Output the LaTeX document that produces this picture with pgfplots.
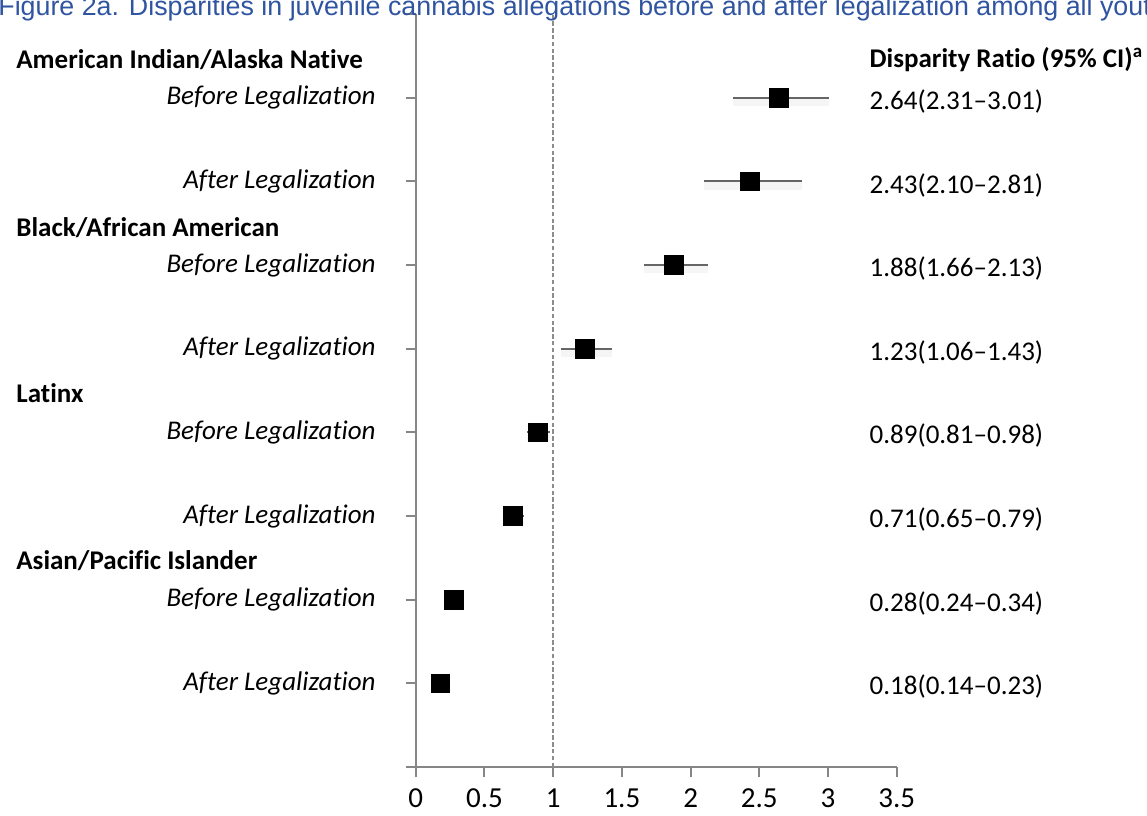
\documentclass[border=0pt]{standalone}
\usepackage{pgfplots}
\pgfplotsset{compat=1.18}
\usepackage{pgfplotstable}
\usepackage{fontspec}
\setmainfont{Carlito}[Ligatures=NoCommon]
\newfontfamily\arialfont{Liberation Sans}
\definecolor{titleblue}{RGB}{47,84,160}
\definecolor{axgray}{RGB}{134,134,134}
\pgfplotstableread{
est   y  ep    em
2.64  8  0.37  0.33
2.43  7  0.38  0.33
1.88  6  0.25  0.22
1.23  5  0.20  0.17
0.89  4  0.09  0.08
0.71  3  0.08  0.06
0.28  2  0.06  0.04
0.18  1  0.05  0.04
}\dr
\tikzset{grp/.style={anchor=west, inner sep=0pt, font=\bfseries\fontsize{13.5}{13.5}\selectfont},
         sub/.style={anchor=east, inner sep=0pt, font=\itshape\fontsize{13.5}{13.5}\selectfont},
         val/.style={anchor=west, inner sep=0pt, font=\fontsize{13.5}{13.5}\selectfont}}
\begin{document}
\begin{tikzpicture}[x=1pt,y=1pt]
\begin{axis}[
  at={(207.85pt,24pt)}, anchor=south west,
  scale only axis, width=240.55pt, height=376.5pt,
  xmin=0, xmax=3.5, ymin=0, ymax=9,
  axis x line*=bottom, axis y line*=left,
  axis line style={axgray, line width=1pt},
  xtick={0,0.5,1,1.5,2,2.5,3,3.5},
  ytick={0,1,2,3,4,5,6,7,8,9}, yticklabels={},
  tick style={axgray, line width=1pt}, tick align=outside, major tick length=5pt,
  xticklabel style={font=\fontsize{14.5}{14.5}\selectfont, black, yshift=-2.5pt},
  /pgf/number format/assume math mode=true,
  clip=false,
]
\draw[black!45, line width=0.9pt, dash pattern=on 2.2pt off 1.2pt] (axis cs:1,0) -- (axis cs:1,9);
\addplot[draw=none, mark=none, forget plot, yshift=-2.2pt,
  error bars/.cd, x dir=both, x explicit, error mark=none,
  error bar style={black!4, line width=4pt}]
  table[x=est, y=y, x error plus=ep, x error minus=em] {\dr};
\addplot[only marks, mark=square*, mark size=4.7pt, black,
  error bars/.cd, x dir=both, x explicit, error mark=none,
  error bar style={black!60, line width=1pt}]
  table[x=est, y=y, x error plus=ep, x error minus=em] {\dr};

\node[grp] at (axis cs:-2.908,8.45) {American Indian/Alaska Native};
\node[grp] at (axis cs:-2.908,6.45) {Black/African American};
\node[grp] at (axis cs:-2.908,4.47) {Latinx};
\node[grp] at (axis cs:-2.908,2.47) {Asian/Pacific Islander};
\node[sub] at (axis cs:-0.289,8) {Before Legalization};
\node[sub] at (axis cs:-0.289,6) {Before Legalization};
\node[sub] at (axis cs:-0.289,4) {Before Legalization};
\node[sub] at (axis cs:-0.289,2) {Before Legalization};
\node[sub] at (axis cs:-0.289,7) {After Legalization};
\node[sub] at (axis cs:-0.289,5) {After Legalization};
\node[sub] at (axis cs:-0.289,3) {After Legalization};
\node[sub] at (axis cs:-0.289,1) {After Legalization};
\node[grp] at (axis cs:3.30,8.45) {Disparity Ratio (95\% CI)\textsuperscript{a}};
\node[val] at (axis cs:3.30,7.96) {2.64(2.31--3.01)};
\node[val] at (axis cs:3.30,6.95) {2.43(2.10--2.81)};
\node[val] at (axis cs:3.30,5.96) {1.88(1.66--2.13)};
\node[val] at (axis cs:3.30,4.96) {1.23(1.06--1.43)};
\node[val] at (axis cs:3.30,3.96) {0.89(0.81--0.98)};
\node[val] at (axis cs:3.30,2.96) {0.71(0.65--0.79)};
\node[val] at (axis cs:3.30,1.96) {0.28(0.24--0.34)};
\node[val] at (axis cs:3.30,0.96) {0.18(0.14--0.23)};
\end{axis}
\node[anchor=base west, inner sep=0pt, font=\arialfont\fontsize{13.4}{14}\selectfont, text=titleblue]
  at (-1pt,399.5pt) {Figure 2a. Disparities in juvenile cannabis allegations before and after legalization among all youth};
\pgfresetboundingbox
\useasboundingbox (0,0) rectangle (573.5pt,407.5pt);
\end{tikzpicture}
\end{document}
